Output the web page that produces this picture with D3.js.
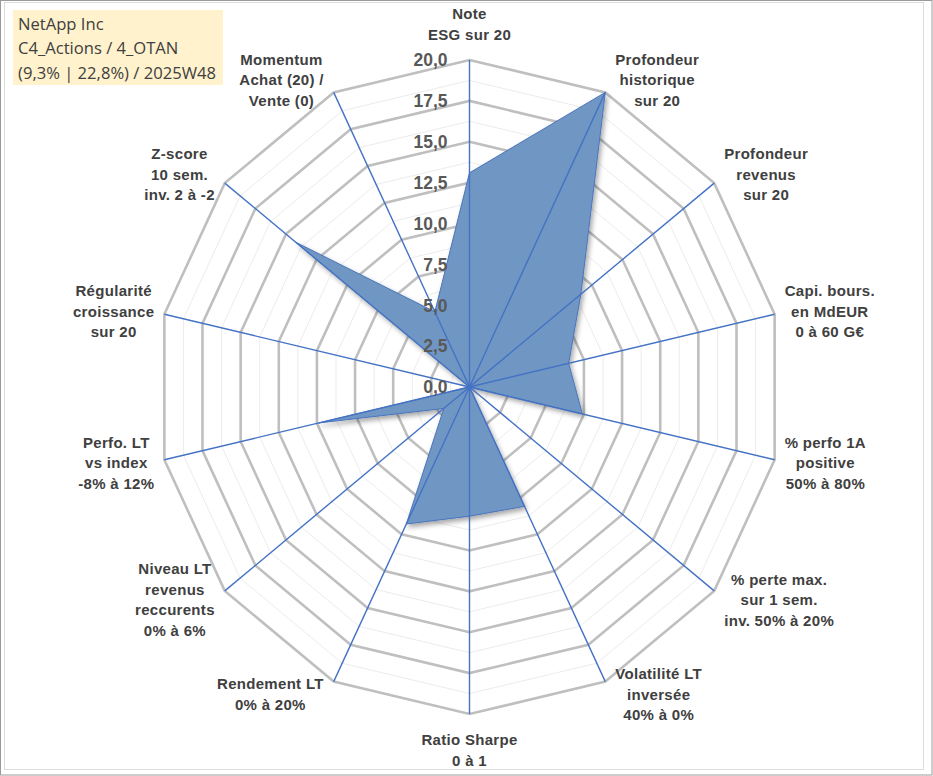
<!DOCTYPE html>
<html>
<head>
<meta charset="utf-8">
<script src="https://cdn.jsdelivr.net/npm/d3@7"></script>
<style>
  html, body { margin: 0; padding: 0; background: #fff; }
  svg { display: block; }
</style>
</head>
<body>
<script>
const WIDTH = 933;
const HEIGHT = 776;

// axes, clockwise from the top
const axisLabels = [
    ["Note", "ESG sur 20"],
    ["Profondeur", "historique", "sur 20"],
    ["Profondeur", "revenus", "sur 20"],
    ["Capi. bours.", "en MdEUR", "0 à 60 G€"],
    ["% perfo 1A", "positive", "50% à 80%"],
    ["% perte max.", "sur 1 sem.", "inv. 50% à 20%"],
    ["Volatilité LT", "inversée", "40% à 0%"],
    ["Ratio Sharpe", "0 à 1"],
    ["Rendement LT", "0% à 20%"],
    ["Niveau LT", "revenus", "reccurents", "0% à 6%"],
    ["Perfo. LT", "vs index", "-8% à 12%"],
    ["Régularité", "croissance", "sur 20"],
    ["Z-score", "10 sem.", "inv. 2 à -2"],
    ["Momentum", "Achat (20) /", "Vente (0)"],
];

// scores
const scores = [13.1, 20, 9.1, 6.5, 7.4, 0, 8.1, 7.9, 9.3, 2.1, 9.9, 0, 14.2, 5.1];

const majorTicks = [0, 2.5, 5, 7.5, 10, 12.5, 15, 17.5, 20];
const minorTicks = [1.25, 3.75, 6.25, 8.75, 11.25, 13.75, 16.25, 18.75];

const titleLines = ["NetApp Inc", "C4_Actions / 4_OTAN", "(9,3% | 22,8%) / 2025W48"];

const locale = d3.formatLocale({ decimal: ",", thousands: " ", grouping: [3], currency: ["", " €"] });
const tickFormat = locale.format(".1f");

const cx = 469.5, cy = 387;
const rx = 313, ry = 327; // the plot is slightly squeezed horizontally

const n = axisLabels.length;
const angle = d3.scaleLinear().domain([0, n]).range([0, 2 * Math.PI]);
const radius = d3.scaleLinear().domain([0, 20]).range([0, 1]);

function px(i, v) { return cx + rx * radius(v) * Math.sin(angle(i)); }
function py(i, v) { return cy - ry * radius(v) * Math.cos(angle(i)); }

const svg = d3.select("body").append("svg")
    .attr("width", WIDTH)
    .attr("height", HEIGHT)
    .attr("viewBox", [0, 0, WIDTH, HEIGHT]);

const defs = svg.append("defs");
defs.append("filter")
    .attr("id", "shadow")
    .attr("x", "-10%").attr("y", "-10%")
    .attr("width", "130%").attr("height", "130%")
  .append("feDropShadow")
    .attr("dx", 2).attr("dy", 3)
    .attr("stdDeviation", 2.5)
    .attr("flood-color", "#000")
    .attr("flood-opacity", 0.35);

// frames
svg.append("rect")
    .attr("x", 0.5).attr("y", 0.5)
    .attr("width", WIDTH - 1.5).attr("height", HEIGHT - 1.5)
    .attr("fill", "none")
    .attr("stroke", "#9a9a9a");
svg.append("rect")
    .attr("x", 4.5).attr("y", 2.5)
    .attr("width", 919).attr("height", 767)
    .attr("fill", "none")
    .attr("stroke", "#dcdcdc");

const ring = d3.line().curve(d3.curveLinearClosed);

function ringPoints(v) {
    return d3.range(n).map(i => [px(i, v), py(i, v)]);
}

// grid
svg.append("g")
        .attr("fill", "none")
        .attr("stroke", "#ececec")
        .attr("stroke-width", 1)
    .selectAll("path")
    .data(minorTicks)
    .join("path")
        .attr("d", d => ring(ringPoints(d)));

svg.append("g")
        .attr("fill", "none")
        .attr("stroke", "#bfbfbf")
        .attr("stroke-width", 2.6)
    .selectAll("path")
    .data(majorTicks.filter(d => d > 0))
    .join("path")
        .attr("d", d => ring(ringPoints(d)));

// data polygon
svg.append("path")
    .datum(scores.map((v, i) => [px(i, v), py(i, v)]))
    .attr("d", ring)
    .attr("fill", "#6f97c4")
    .attr("stroke", "#4a74bd")
    .attr("stroke-width", 1)
    .attr("stroke-linejoin", "miter")
    .attr("filter", "url(#shadow)");

// spokes
svg.append("g")
        .attr("stroke", "#4472c4")
        .attr("stroke-width", 1.4)
    .selectAll("line")
    .data(d3.range(n))
    .join("line")
        .attr("x1", cx).attr("y1", cy)
        .attr("x2", i => px(i, 20))
        .attr("y2", i => py(i, 20));

svg.append("circle")
    .attr("cx", cx).attr("cy", cy).attr("r", 2.5)
    .attr("fill", "#4472c4");

// radial tick labels
svg.append("g")
        .attr("font-family", "'Liberation Sans', Arial, sans-serif")
        .attr("font-size", 17.5)
        .attr("font-weight", "bold")
        .attr("fill", "#595959")
        .attr("text-anchor", "end")
    .selectAll("text")
    .data(majorTicks)
    .join("text")
        .attr("x", cx - 22)
        .attr("y", d => py(0, d))
        .attr("dy", "0.36em")
        .text(d => tickFormat(d));

// axis labels
const lineH = 20.5;
const label = svg.append("g")
        .attr("font-family", "'Liberation Sans', Arial, sans-serif")
        .attr("font-size", 15)
        .attr("font-weight", "bold")
        .attr("fill", "#404040")
        .attr("text-anchor", "middle")
        .attr("letter-spacing", 0.3)
    .selectAll("text")
    .data(axisLabels)
    .join("text");

label.selectAll("tspan")
    .data(d => d.map((t, k) => ({ t, k, len: d.length })))
    .join("tspan")
        .attr("x", 0)
        .attr("y", d => (d.k - (d.len - 1) / 2) * lineH)
        .attr("dy", "0.36em")
        .text(d => d.t);

// place each label box beside the end of its spoke
label.attr("transform", function(d, i) {
    const s = Math.sin(angle(i)), c = Math.cos(angle(i));
    const top = Math.abs(s) < 0.1;
    const halfW = d3.max(d3.select(this).selectAll("tspan").nodes(), t => t.getComputedTextLength()) / 2;
    const x = px(i, 20) + (top ? 0 : Math.sign(s) * (halfW + 10));
    const y = py(i, 20) - c * (top ? 36 : 14);
    return `translate(${x},${y})`;
});

// title box
const title = svg.append("g");
title.append("rect")
    .attr("x", 13).attr("y", 10)
    .attr("width", 210).attr("height", 75)
    .attr("fill", "#fff2cc");
title.append("g")
        .attr("font-family", "'Open Sans', 'Noto Sans', sans-serif")
        .attr("font-size", 16.6)
        .attr("fill", "#404040")
    .selectAll("text")
    .data(titleLines)
    .join("text")
        .attr("x", 18)
        .attr("y", (d, i) => 24 + i * 24.3)
        .attr("dy", "0.36em")
        .text(d => d);
</script>
</body>
</html>
